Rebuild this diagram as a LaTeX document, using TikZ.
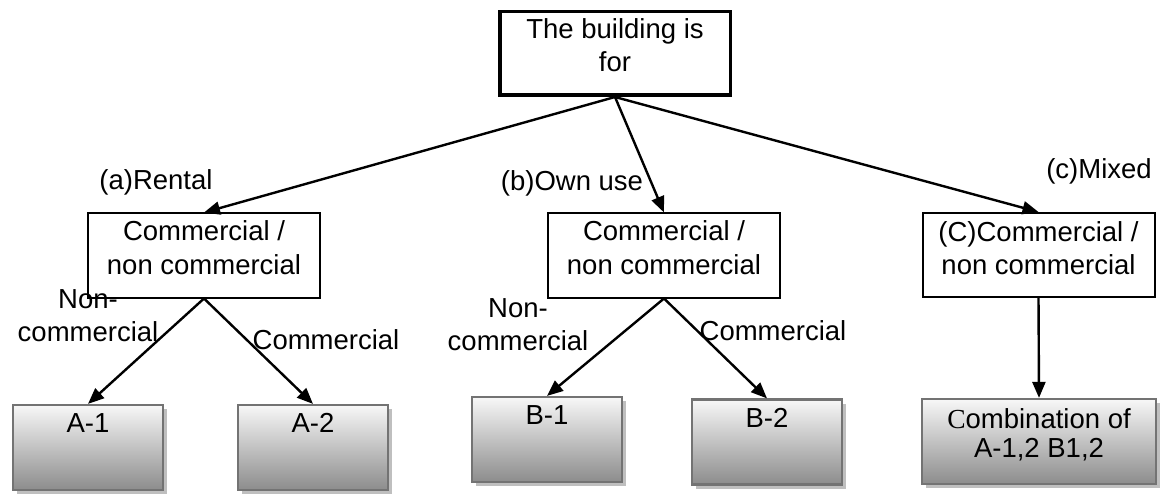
\documentclass[tikz,border=0pt]{standalone}
\usepackage{fontspec}
\setmainfont{Liberation Sans}
\newfontfamily\serifcap{Liberation Serif}
\usetikzlibrary{arrows.meta,shadows}
\begin{document}
\begin{tikzpicture}[x=1pt,y=-1pt,
  txt/.style={font=\fontsize{27.5}{33}\selectfont, align=center, inner sep=0pt},
  topbox/.style={draw, line width=3.5pt, minimum width=230.5pt, minimum height=83.5pt, inner sep=0pt},
  midbox/.style={draw, line width=2pt, minimum width=232pt, minimum height=84pt, inner sep=0pt},
  leafbox/.style={draw=black!55, line width=2.2pt, minimum width=150pt, minimum height=85pt,
    inner sep=0pt, top color=black!3, middle color=black!16, bottom color=black!45,
    drop shadow={shadow xshift=3.5pt, shadow yshift=-4pt, fill=black!25, opacity=1}},
  link/.style={line width=2.4pt, -{Triangle[length=16pt,width=13pt]}}
]
\useasboundingbox (0,0) rectangle (1161,494);

% root question (a multi-line node sits on the baseline of its last line)
\node[topbox] (top) at (615,53.5) {};
\node[txt, anchor=base] (toptext) at (615,72) {The building is\\for};

% second level: commercial / non commercial decisions
\node[midbox] (boxa) at (204,255.5) {};
\node[midbox] (boxb) at (664,255.5) {};
\node[midbox] (boxc) at (1038.5,255) {};
\node[txt, anchor=base] (boxatext) at (204,274) {Commercial /\\non commercial};
\node[txt, anchor=base] (boxbtext) at (664,274) {Commercial /\\non commercial};
\node[txt, anchor=base] (boxctext) at (1038.5,275) {(C)Commercial /\\non commercial};

% leaves
\node[leafbox] (A1) at (88,447.5) {};
\node[leafbox] (A2) at (313,447.5) {};
\node[leafbox] (B1) at (547,439.5) {};
\node[leafbox] (B2) at (767,442) {};
\node[leafbox, minimum width=234pt] (C) at (1039,441.5) {};
\node[txt, anchor=base] (A1text) at ([yshift=-29pt]A1.north) {A-1};
\node[txt, anchor=base] (A2text) at ([yshift=-29pt]A2.north) {A-2};
\node[txt, anchor=base] (B1text) at ([yshift=-29pt]B1.north) {B-1};
\node[txt, anchor=base] (B2text) at ([yshift=-29pt]B2.north) {B-2};
\node[txt, anchor=base, font=\fontsize{27.5}{29}\selectfont] (Ctext) at (1039,457)
  {{\serifcap C}ombination of\\A-1,2 B1,2};

% connectors
\draw[link] (top.south) -- (boxa.north);
\draw[link] (top.south) -- (boxb.north);
\draw[link] (top.south) -- (boxc.north);
\draw[link] (boxa.south) -- (A1.north);
\draw[link] (boxa.south) -- (A2.north);
\draw[link] (boxb.south) -- (B1.north);
\draw[link] (boxb.south) -- (B2.north);
\draw[link] (boxc.south) -- (C.north);

% branch labels
\node[txt] (rental) at (156,182.5) {(a)Rental};
\node[txt] (ownuse) at (572,183) {(b)Own use};
\node[txt] (mixed) at (1099,171) {(c)Mixed};
\node[txt, anchor=base] (anc) at (88,341) {Non-\\commercial};
\node[txt, anchor=base] (ac) at (326,349) {Commercial};
\node[txt, anchor=base] (bnc) at (518,350) {Non-\\commercial};
\node[txt, anchor=base] (bc) at (773,340) {Commercial};
\end{tikzpicture}
\end{document}
